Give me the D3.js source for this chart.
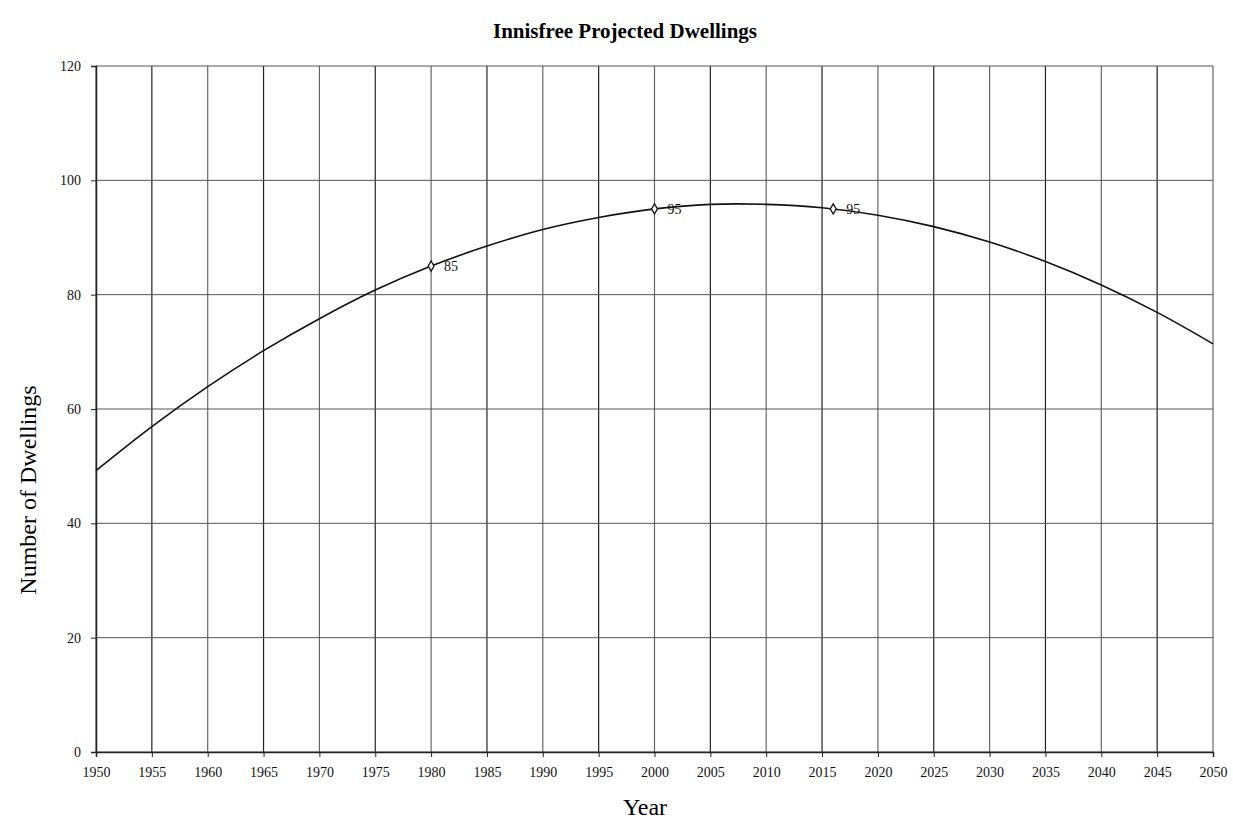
<!DOCTYPE html>
<html><head><meta charset="utf-8">
<script src="https://cdn.jsdelivr.net/npm/d3@7"></script>
<style>body{margin:0;background:#fff}svg{display:block}</style>
</head><body>
<svg id="c" width="1233" height="823"></svg>
<script>
const years = [1950,1955,1960,1965,1970,1975,1980,1985,1990,1995,2000,2005,2010,2015,2020,2025,2030,2035,2040,2045,2050];
const dwellings = [49.2,56.9,63.9,70.2,75.8,80.8,85.0,88.5,91.4,93.5,95.0,95.8,95.8,95.2,93.9,91.9,89.2,85.8,81.7,76.9,71.4];
const pointYears = [1980,2000,2016];
const pointValues = [85,95,95];
const yTicks = [0,20,40,60,80,100,120];
const xTicks = years;

const svg = d3.select("#c");
const font = "'Liberation Serif','DejaVu Serif',serif";
const x = d3.scaleLinear().domain([1950,2050]).range([96,1213]);
const y = d3.scaleLinear().domain([0,120]).range([752,66]);

const g = svg.append("g");
// grid
g.selectAll(".vg").data(xTicks).join("line")
  .attr("x1",d=>x(d)).attr("x2",d=>x(d)).attr("y1",y(0)).attr("y2",y(120))
  .attr("stroke",(d,i)=> i%2? "#222":"#666").attr("stroke-width",1.2);
g.selectAll(".hg").data(yTicks).join("line")
  .attr("x1",x(1950)).attr("x2",x(2050)).attr("y1",d=>y(d)).attr("y2",d=>y(d))
  .attr("stroke","#555").attr("stroke-width",1);

// axes
const xa = svg.append("g").attr("transform",`translate(0,${y(0)})`)
  .call(d3.axisBottom(x).tickValues(xTicks).tickFormat(d3.format("d")).tickSize(5).tickPadding(10));
const ya = svg.append("g").attr("transform",`translate(${x(1950)},0)`)
  .call(d3.axisLeft(y).tickValues(yTicks).tickSize(5).tickPadding(10));
[xa,ya].forEach(a=>{
  a.select(".domain").attr("stroke","#222").attr("stroke-width",1.5);
  a.selectAll(".tick line").attr("stroke","#222");
  a.selectAll("text").attr("font-family",font).attr("font-size",14).attr("fill","#111");
});

// curve
const line = d3.line().x((d,i)=>x(years[i])).y(d=>y(d)).curve(d3.curveCatmullRom);
svg.append("path").datum(dwellings).attr("d",line).attr("fill","none").attr("stroke","#111").attr("stroke-width",1.6);

// points
const sym = d3.symbol().type(d3.symbolDiamond).size(30);
svg.selectAll(".pt").data(pointValues).join("path")
  .attr("d",sym).attr("transform",(d,i)=>`translate(${x(pointYears[i])},${y(d)})`)
  .attr("fill","#fff").attr("stroke","#111").attr("stroke-width",1.3);
svg.selectAll(".pl").data(pointValues).join("text")
  .attr("x",(d,i)=>x(pointYears[i])+13).attr("y",d=>y(d)+5)
  .attr("font-family",font).attr("font-size",14).attr("fill","#111").text(d=>d);

// titles
svg.append("text").attr("x",625).attr("y",38).attr("text-anchor","middle")
  .attr("font-family",font).attr("font-weight","bold").attr("font-size",21).text("Innisfree Projected Dwellings");
svg.append("text").attr("x",645).attr("y",815).attr("text-anchor","middle")
  .attr("font-family",font).attr("font-size",24).text("Year");
svg.append("text").attr("transform","translate(36,490) rotate(-90)").attr("text-anchor","middle")
  .attr("font-family",font).attr("font-size",24).text("Number of Dwellings");
</script>
</body></html>
